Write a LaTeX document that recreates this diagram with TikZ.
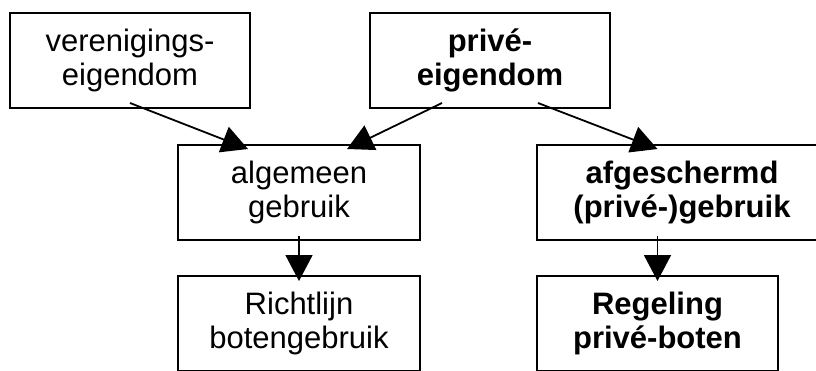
\documentclass[tikz,border=0pt]{standalone}
\usepackage{fontspec}
\setmainfont{Liberation Sans}
\usetikzlibrary{arrows.meta, positioning}

\begin{document}
\begin{tikzpicture}[x=1pt, y=-1pt,
    box/.style={draw, line width=2pt, rectangle, inner sep=0pt, align=center,
        minimum height=95pt, font=\fontsize{31}{34}\selectfont},
    pijl/.style={-{Triangle[length=26pt, width=27pt]}, line width=1.8pt}
]
\useasboundingbox (0,0) rectangle (816,370);
\clip (0,0) rectangle (816,370);

% Eigendom
\node[box, minimum width=240pt] (ver) at (130,60.5) {verenigings-\\eigendom};
\node[box, minimum width=240pt] (prv) at (490,60.5) {\textbf{privé-}\\\textbf{eigendom}};

% Gebruik
\node[box, minimum width=242pt] (alg) at (299,192.5) {algemeen\\gebruik};
\node[box, minimum width=290pt] (afg) at (682,192.5) {\textbf{afgeschermd}\\\textbf{(privé-)gebruik}};

% Regels
\node[box, minimum width=242pt] (ric) at (299,323.5) {Richtlijn\\botengebruik};
\node[box, minimum width=241pt] (reg) at (657.5,323.5) {\textbf{Regeling}\\\textbf{privé-boten}};

% Pijlen
\draw[pijl] ([yshift=6pt]ver.south) -- ([xshift=-51pt, yshift=-5pt]alg.north);
\draw[pijl] ([xshift=-48pt, yshift=6pt]prv.south) -- ([xshift=48pt, yshift=-5pt]alg.north);
\draw[pijl] ([xshift=48pt, yshift=6pt]prv.south) -- ([yshift=-5pt]afg.north -| reg.north);
\draw[pijl] ([yshift=5pt]alg.south) -- ([yshift=-6pt]ric.north);
\draw[pijl] ([yshift=5pt]afg.south -| reg.north) -- ([yshift=-6pt]reg.north);

\end{tikzpicture}
\end{document}
